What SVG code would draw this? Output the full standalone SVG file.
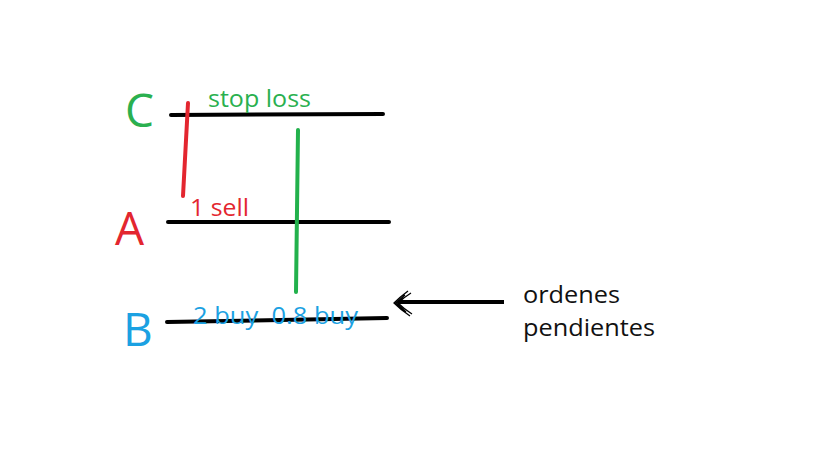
<svg xmlns="http://www.w3.org/2000/svg" width="819" height="460" viewBox="0 0 819 460">
<style>
.lvl{stroke:#000;stroke-width:4;stroke-linecap:round;fill:none}
.big{font-family:"Open Sans","Liberation Sans",sans-serif;font-size:46px}
.sm{font-family:"Open Sans","Liberation Sans",sans-serif;font-size:24px}
.g{fill:#2ab04f}.r{fill:#e3262f}.b{fill:#1ba1e2}.k{fill:#111}
.ah{fill:none;stroke:#000;stroke-width:1.3}
</style>
<rect width="819" height="460" fill="#fff"/>
<g id="level-C">
<line class="lvl" x1="171" y1="115" x2="383" y2="114"/>
<text class="big g" x="125" y="127">C</text>
<text class="sm g" x="208" y="107" textLength="103" lengthAdjust="spacingAndGlyphs">stop loss</text>
</g>
<g id="level-A">
<line class="lvl" x1="168" y1="222" x2="389" y2="222"/>
<text class="big r" x="115" y="245">A</text>
<text class="sm r" x="190" y="216" textLength="59" lengthAdjust="spacingAndGlyphs">1 sell</text>
</g>
<g id="level-B">
<line class="lvl" x1="167" y1="322" x2="387" y2="318"/>
<text class="big b" x="123" y="346">B</text>
<text class="sm b" x="193" y="324" textLength="165" lengthAdjust="spacingAndGlyphs" xml:space="preserve">2 buy  0.8 buy</text>
</g>
<g id="note">
<text class="sm k" x="523" y="303" textLength="97" lengthAdjust="spacingAndGlyphs">ordenes</text>
<text class="sm k" x="523" y="336" textLength="132" lengthAdjust="spacingAndGlyphs">pendientes</text>
</g>
<g id="connectors">
<line x1="188" y1="103" x2="183" y2="196" stroke="#e3262f" stroke-width="4" stroke-linecap="round"/>
<line x1="298" y1="130" x2="296" y2="292" stroke="#22b14c" stroke-width="4" stroke-linecap="round"/>
<line x1="504" y1="302" x2="398" y2="302" stroke="#000" stroke-width="4"/>
<path class="ah" d="M408 291 Q400 297 394 303 Q401 310 410 316 M411 293 Q403 298 398 303 Q404 309 412 314 M405 295 L396 303 L406 312"/>
</g>
</svg>
